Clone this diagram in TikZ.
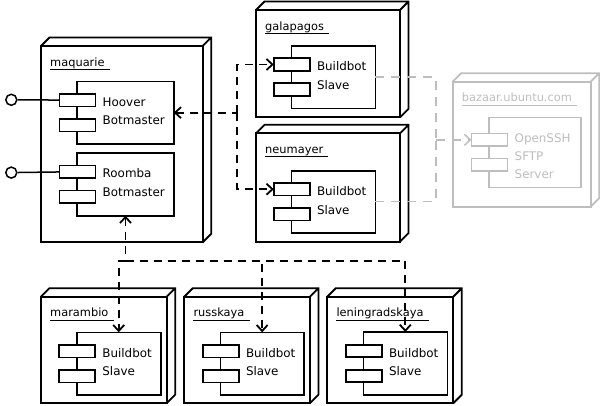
\documentclass[tikz,border=0pt]{standalone}
\usepackage{fontspec}
\setmainfont{DejaVu Sans}
\usetikzlibrary{calc,arrows.meta}
\definecolor{lightgr}{RGB}{190,190,190}

\tikzset{
  device/.style={draw, line width=1.8pt, inner sep=0pt, outer sep=0pt, anchor=north west},
  devface/.style={line width=1.8pt, line join=miter},
  devlabel/.style={inner sep=0pt, anchor=base west, font=\fontsize{11.4}{13}\selectfont},
  underline/.style={line width=1pt},
  comp/.style={draw, fill=white, line width=1.6pt, inner sep=0pt, outer sep=0pt, anchor=north west},
  port/.style={draw, fill=white, line width=1.6pt, inner sep=0pt, outer sep=0pt, minimum width=36pt, minimum height=12.5pt},
  comptext/.style={inner sep=0pt, anchor=north west, align=left, font=\fontsize{11.9}{18.3}\selectfont},
  lolli/.style={circle, draw, line width=1.5pt, inner sep=0pt, minimum size=11pt},
  wire/.style={line width=1.5pt},
  dep/.style={line width=1.8pt, dash pattern=on 8pt off 6pt},
  gdep/.style={line width=1.5pt, draw=lightgr, dash pattern=on 9pt off 7pt}
}

\begin{document}
\begin{tikzpicture}[x=1pt, y=-1pt, >={Straight Barb[length=6pt,width=11pt]}]
\useasboundingbox (0,0) rectangle (600,405);

% nodes (3d boxes)
\foreach \nm/\x/\y/\w/\h/\col/\lbl in {
    maquarie/41/46/161.7/196.3/black/maquarie,
    galapagos/256/10/144/107.3/black/galapagos,
    neumayer/256/133.3/144/108.4/black/neumayer,
    bazaar/452.7/81.7/138/125/lightgr/bazaar.ubuntu.com,
    marambio/41/296.7/125.7/106.5/black/marambio,
    russkaya/184.3/296.7/125.7/106.5/black/russkaya,
    leningradskaya/327.3/296.7/126/106.5/black/leningradskaya} {
  \node[device, draw=\col, minimum width=\w pt, minimum height=\h pt] (\nm) at (\x,\y) {};
  \draw[devface, draw=\col] (\nm.north west) -- ++(8.5,-8.5) -- ++(\w,0) -- ++(0,\h) -- (\nm.south east)
    (\nm.north east) -- ++(8.5,-8.5);
  \node[devlabel, text=\col] (\nm-lbl) at ($(\nm.north west)+(9,20)$) {\lbl};
  \draw[underline, draw=\col] ($(\nm-lbl.base west)+(0,3.5)$) -- ($(\nm-lbl.base east)+(5,3.5)$);
}

% components
\foreach \nm/\x/\y/\w/\h/\col/\lbl in {
    hoover/77/81.3/96.7/62.7/black/{Hoover\\Botmaster},
    roomba/77/152.7/97/63/black/{Roomba\\Botmaster},
    galaslave/291.3/45.7/84/62.6/black/{Buildbot\\Slave},
    neuslave/291.3/170.7/84/62/black/{Buildbot\\Slave},
    bazssh/489/117.3/91.7/70/lightgr/{OpenSSH\\SFTP\\Server},
    maramslave/76.7/332.3/84/62.7/black/{Buildbot\\Slave},
    russslave/220.3/332.3/83.7/62.7/black/{Buildbot\\Slave},
    leninslave/363.3/332/84/63/black/{Buildbot\\Slave}} {
  \node[comp, draw=\col, minimum width=\w pt, minimum height=\h pt] (\nm) at (\x,\y) {};
  \node[port, draw=\col] (\nm-p1) at ($(\nm.west)+(0.5,-12.5)$) {};
  \node[port, draw=\col] (\nm-p2) at ($(\nm.west)+(0.5,12.5)$) {};
  \node[comptext, text=\col] (\nm-txt) at ($(\nm.north west)+(25.5,16)$) {\lbl};
}

% provided interfaces
\node[lolli] (hoover-if) at (11.3,99.8) {};
\node[lolli] (roomba-if) at (11.3,172.6) {};
\draw[wire] (hoover-if) -- (hoover-p1);
\draw[wire] (roomba-if) -- (roomba-p1);

% dependencies
\coordinate (jtop) at ($(hoover.east)+(63.5,0)$);
\draw[dep,<-] (hoover.east) -- (jtop);
\draw[dep,->] (jtop) |- (galaslave-p1.west);
\draw[dep,->] (jtop) |- (neuslave-p1.west);

\coordinate (jbot) at ($(roomba.south)+(0,45)$);
\draw[dep,<-] (roomba.south) -- (jbot);
\draw[dep,->] (jbot) -| (maramslave.north);
\draw[dep,->] (jbot) -| (russslave.north);
\draw[dep,->] (jbot) -| (leninslave.north);

\coordinate (jgray) at ($(bazssh-p1.west)+(-35.7,0)$);
\draw[gdep] (galaslave.east) -| (jgray);
\draw[gdep] (neuslave.east) -| (jgray);
\draw[gdep,->] (jgray) -- (bazssh-p1.west);

\end{tikzpicture}
\end{document}
